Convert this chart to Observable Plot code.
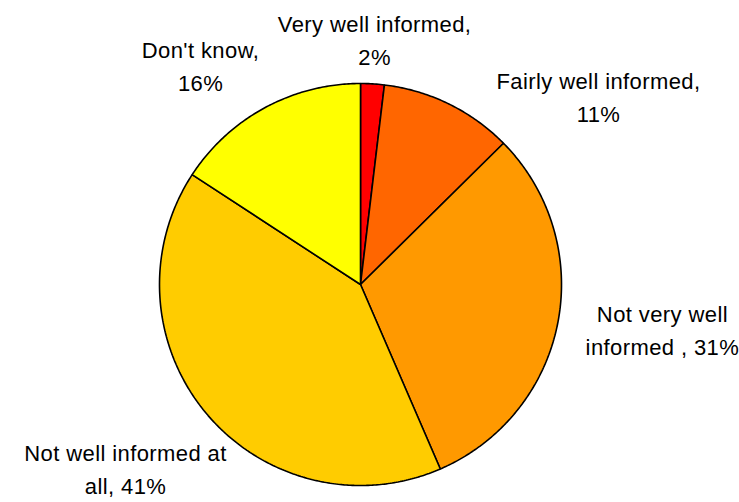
<!DOCTYPE html>
<html>
<head>
<meta charset="utf-8">
<script src="https://cdn.jsdelivr.net/npm/d3@7"></script>
<script src="https://cdn.jsdelivr.net/npm/@observablehq/plot@0.6"></script>
<style>
  html, body { margin: 0; padding: 0; background: #fff; }
  #chart svg { display: block; }
</style>
</head>
<body>
<div id="chart"></div>
<script>
// Data (clockwise from 12 o'clock)
const categories = ["Very well informed", "Fairly well informed", "Not very well informed", "Not well informed at all", "Don't know"];
const values = [1.9, 10.7, 30.9, 40.7, 15.8];
const labels = ["Very well informed,\n2%", "Fairly well informed,\n11%", "Not very well\ninformed , 31%", "Not well informed at\nall, 41%", "Don't know,\n16%"];
const colors = ["#FF0000", "#FF6600", "#FF9900", "#FFCC00", "#FFFF00"];

// label placement (in units of pie radius)
const labelX = [0.07, 1.184, 1.502, -1.169, -0.796];
const labelY = [1.226, 0.945, -0.214, -0.91, 1.095];

const total = d3.sum(values);
let acc = 0;
const slices = values.map((v, i) => {
  const a0 = acc / total * 2 * Math.PI;
  acc += v;
  const a1 = acc / total * 2 * Math.PI;
  const pts = [{x: 0, y: 0}];
  const n = Math.max(2, Math.ceil((a1 - a0) / 0.01));
  for (let k = 0; k <= n; k++) {
    const a = a0 + (a1 - a0) * k / n;
    pts.push({x: Math.sin(a), y: Math.cos(a)});
  }
  return {name: categories[i], color: colors[i], pts};
});

const labelData = labels.map((t, i) => ({text: t, x: labelX[i], y: labelY[i]}));

const chart = Plot.plot({
  width: 739,
  height: 502,
  margin: 0,
  style: {background: "#fff", fontFamily: "'Liberation Sans', Arial, sans-serif", letterSpacing: "0.4px"},
  x: {type: "linear", domain: [-1, 1], range: [159, 561], axis: null},
  y: {type: "linear", domain: [-1, 1], range: [485, 83], axis: null},
  marks: [
    ...slices.map(s => Plot.line(s.pts, {
      x: "x", y: "y", curve: "linear-closed",
      fill: s.color, stroke: "#000", strokeWidth: 1.6, strokeLinejoin: "miter"
    })),
    Plot.text(labelData, {
      x: "x", y: "y", text: "text",
      fontSize: 22, lineHeight: 1.5, fill: "#000",
      textAnchor: "middle", lineAnchor: "middle",
      fontFamily: "'Liberation Sans', Arial, sans-serif"
    })
  ]
});
document.getElementById("chart").appendChild(chart);
</script>
</body>
</html>
